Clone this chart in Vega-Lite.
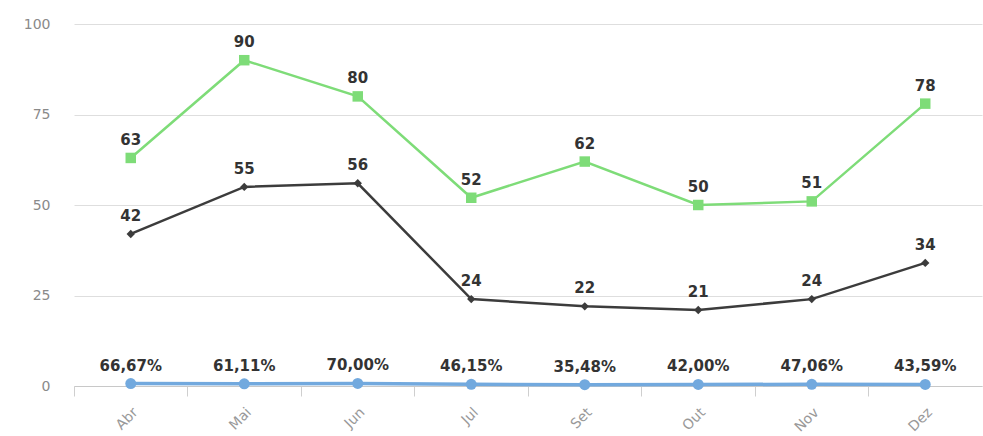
{
  "$schema": "https://vega.github.io/schema/vega-lite/v6.json",
  "width": 908,
  "height": 362,
  "autosize": "none",
  "padding": {"left": 74, "top": 24, "right": 1, "bottom": 50},
  "background": "white",
  "config": {"view": {"stroke": null}, "font": "DejaVu Sans"},
  "data": {
    "values": [
      {"month": "Abr", "series": "Total", "value": 63, "label": "63"},
      {"month": "Mai", "series": "Total", "value": 90, "label": "90"},
      {"month": "Jun", "series": "Total", "value": 80, "label": "80"},
      {"month": "Jul", "series": "Total", "value": 52, "label": "52"},
      {"month": "Set", "series": "Total", "value": 62, "label": "62"},
      {"month": "Out", "series": "Total", "value": 50, "label": "50"},
      {"month": "Nov", "series": "Total", "value": 51, "label": "51"},
      {"month": "Dez", "series": "Total", "value": 78, "label": "78"},
      {"month": "Abr", "series": "Parte", "value": 42, "label": "42"},
      {"month": "Mai", "series": "Parte", "value": 55, "label": "55"},
      {"month": "Jun", "series": "Parte", "value": 56, "label": "56"},
      {"month": "Jul", "series": "Parte", "value": 24, "label": "24"},
      {"month": "Set", "series": "Parte", "value": 22, "label": "22"},
      {"month": "Out", "series": "Parte", "value": 21, "label": "21"},
      {"month": "Nov", "series": "Parte", "value": 24, "label": "24"},
      {"month": "Dez", "series": "Parte", "value": 34, "label": "34"},
      {"month": "Abr", "series": "Percentual", "value": 0.6667, "label": "66,67%"},
      {"month": "Mai", "series": "Percentual", "value": 0.6111, "label": "61,11%"},
      {"month": "Jun", "series": "Percentual", "value": 0.7, "label": "70,00%"},
      {"month": "Jul", "series": "Percentual", "value": 0.4615, "label": "46,15%"},
      {"month": "Set", "series": "Percentual", "value": 0.3548, "label": "35,48%"},
      {"month": "Out", "series": "Percentual", "value": 0.42, "label": "42,00%"},
      {"month": "Nov", "series": "Percentual", "value": 0.4706, "label": "47,06%"},
      {"month": "Dez", "series": "Percentual", "value": 0.4359, "label": "43,59%"}
    ]
  },
  "encoding": {
    "x": {
      "field": "month",
      "type": "ordinal",
      "sort": ["Abr", "Mai", "Jun", "Jul", "Set", "Out", "Nov", "Dez"],
      "scale": {"type": "band", "paddingInner": 0, "paddingOuter": 0},
      "axis": {
        "title": null,
        "labelAngle": -45,
        "labelColor": "#999999",
        "labelFontSize": 14,
        "labelPadding": 9,
        "bandPosition": 0,
        "tickColor": "#cfcfcf",
        "tickSize": 10,
        "domainColor": "#c8c8c8",
        "grid": false
      }
    },
    "y": {
      "field": "value",
      "type": "quantitative",
      "scale": {"domain": [0, 100]},
      "axis": {
        "title": null,
        "values": [0, 25, 50, 75, 100],
        "domain": false,
        "ticks": false,
        "labelPadding": 24,
        "labelColor": "#8a8a8a",
        "labelFontSize": 14,
        "gridColor": "#dedede"
      }
    },
    "color": {
      "field": "series",
      "type": "nominal",
      "scale": {"domain": ["Total", "Parte", "Percentual"], "range": ["#7edc78", "#3c3c3c", "#72a9de"]},
      "legend": null
    }
  },
  "layer": [
    {"transform": [{"filter": "datum.series === 'Total'"}], "mark": {"type": "line", "strokeWidth": 2.5}, "encoding": {}},
    {"transform": [{"filter": "datum.series === 'Parte'"}], "mark": {"type": "line", "strokeWidth": 2.5}, "encoding": {}},
    {"transform": [{"filter": "datum.series === 'Percentual'"}], "mark": {"type": "line", "strokeWidth": 3.5}, "encoding": {}},
    {"transform": [{"filter": "datum.series === 'Total'"}], "mark": {"type": "point", "shape": "square", "filled": true, "size": 110, "opacity": 1}},
    {"transform": [{"filter": "datum.series === 'Parte'"}], "mark": {"type": "point", "shape": "diamond", "filled": true, "size": 70, "opacity": 1}},
    {"transform": [{"filter": "datum.series === 'Percentual'"}], "mark": {"type": "point", "shape": "circle", "filled": true, "size": 120, "opacity": 1}},
    {
      "mark": {"type": "text", "dy": -18, "fontSize": 15, "fontWeight": "bold", "color": "#333333"},
      "encoding": {"text": {"field": "label"}, "color": {"value": "#333333"}}
    }
  ]
}
